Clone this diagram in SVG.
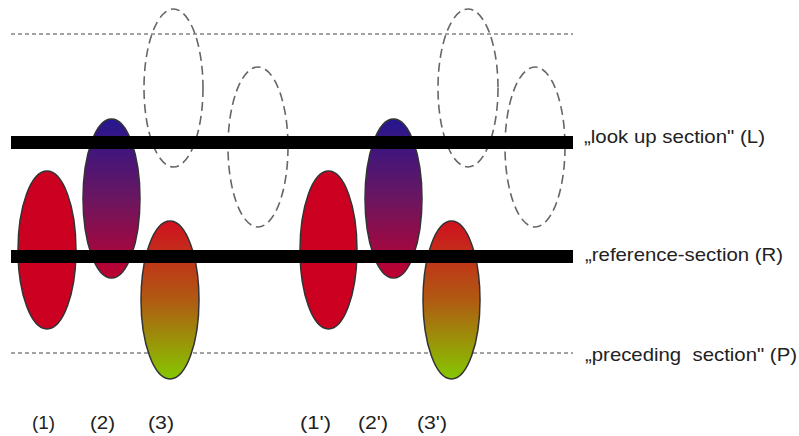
<svg xmlns="http://www.w3.org/2000/svg" width="799" height="436" viewBox="0 0 799 436">
<defs>
<linearGradient id="gBlue" x1="0" y1="0" x2="0" y2="1">
<stop offset="0" stop-color="#26168f"/>
<stop offset="0.5" stop-color="#6a1660"/>
<stop offset="1" stop-color="#c00030"/>
</linearGradient>
<linearGradient id="gGreen" x1="0" y1="0" x2="0" y2="1">
<stop offset="0" stop-color="#d0101f"/>
<stop offset="0.5" stop-color="#b05a12"/>
<stop offset="1" stop-color="#86c800"/>
</linearGradient>
</defs>
<style>
.red{fill:#cc0020;stroke:#333;stroke-width:1.5}
.blue{fill:url(#gBlue);stroke:#333;stroke-width:1.5}
.green{fill:url(#gGreen);stroke:#333;stroke-width:1.5}
.ghost{fill:none;stroke:#666;stroke-width:1.6;stroke-dasharray:9 5}
.thin{stroke:#444;stroke-width:1;stroke-dasharray:4 3;fill:none}
.thick{fill:#000}
text{font-family:"Liberation Sans",Arial,sans-serif;font-size:19px;fill:#222}
</style>
<g id="connectors">
<line class="thin" x1="11" y1="34" x2="573" y2="34"/>
<line class="thin" x1="11" y1="353" x2="573" y2="353"/>
</g>
<g id="node-ghost-a"><ellipse class="ghost" cx="173.5" cy="88" rx="29.5" ry="79"/></g>
<g id="node-ghost-b"><ellipse class="ghost" cx="258" cy="147" rx="30" ry="80"/></g>
<g id="node-ghost-a2"><ellipse class="ghost" cx="468" cy="88" rx="30" ry="79"/></g>
<g id="node-ghost-b2"><ellipse class="ghost" cx="535" cy="147" rx="30" ry="80"/></g>
<g id="node-1"><ellipse class="red" cx="47" cy="250" rx="29" ry="79"/></g>
<g id="node-2"><ellipse class="blue" cx="111.5" cy="198.5" rx="28.5" ry="79.5"/></g>
<g id="node-3"><ellipse class="green" cx="170" cy="300" rx="29" ry="79"/></g>
<g id="node-1p"><ellipse class="red" cx="328.5" cy="250" rx="28.5" ry="79"/></g>
<g id="node-2p"><ellipse class="blue" cx="393.5" cy="198.5" rx="28.5" ry="79.5"/></g>
<g id="node-3p"><ellipse class="green" cx="451.5" cy="300" rx="28.5" ry="79"/></g>
<g id="node-L">
<rect class="thick" x="11" y="136" width="562" height="13"/>
<text x="584" y="143" textLength="181" lengthAdjust="spacingAndGlyphs">„look up section" (L)</text>
</g>
<g id="node-R">
<rect class="thick" x="11" y="250" width="562" height="13"/>
<text x="585" y="261" textLength="198" lengthAdjust="spacingAndGlyphs">„reference-section (R)</text>
</g>
<g id="node-P">
<text x="585" y="361" xml:space="preserve" textLength="212" lengthAdjust="spacingAndGlyphs">„preceding  section" (P)</text>
</g>
<g id="labels">
<text x="32" y="429" textLength="23" lengthAdjust="spacingAndGlyphs">(1)</text>
<text x="90" y="429" textLength="25" lengthAdjust="spacingAndGlyphs">(2)</text>
<text x="148" y="429" textLength="26" lengthAdjust="spacingAndGlyphs">(3)</text>
<text x="300" y="429" textLength="31" lengthAdjust="spacingAndGlyphs">(1')</text>
<text x="358" y="429" textLength="30" lengthAdjust="spacingAndGlyphs">(2')</text>
<text x="417" y="429" textLength="30" lengthAdjust="spacingAndGlyphs">(3')</text>
</g>
</svg>
